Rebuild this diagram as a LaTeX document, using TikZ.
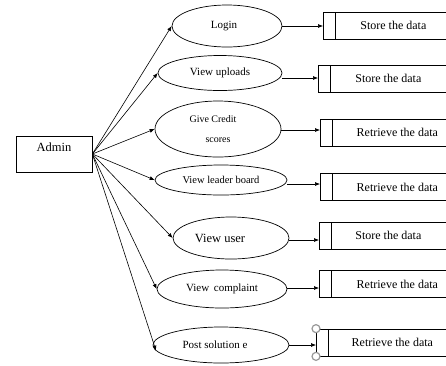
\documentclass[tikz,border=0pt]{standalone}
\usepackage{fontspec}
\setmainfont{Liberation Serif}
\usetikzlibrary{arrows.meta,shapes.geometric}
\begin{document}
\begin{tikzpicture}[x=1pt,y=-1pt,
  uc/.style={draw, ellipse, line width=0.7pt, inner sep=0pt, align=center, font=\fontsize{11}{13}\selectfont},
  store/.style={draw, rectangle, line width=0.7pt, minimum height=27pt, inner sep=0pt, anchor=west,
    font=\fontsize{12}{14}\selectfont,
    path picture={\draw[line width=0.7pt] ([xshift=12pt]path picture bounding box.north west) -- ([xshift=12pt]path picture bounding box.south west);}},
  arr/.style={-{Latex[length=5pt,width=4pt]}, line width=0.6pt},
  handle/.style={circle, draw=black!40, fill=white, line width=1.2pt, minimum size=8pt, inner sep=0pt}]
\useasboundingbox (0,0) rectangle (446,365);
\clip (0,0) rectangle (446,365);
\fill[white] (0,0) rectangle (446,365);

% actor
\node[draw, rectangle, line width=0.7pt, minimum width=76pt, inner sep=3pt, text height=12pt, text depth=18pt,
  font=\fontsize{12.5}{14}\selectfont] (admin) at (54,154) {Admin};

% use cases
\node[uc, minimum width=110pt, minimum height=42pt] (e1) at (227,26) {\hspace*{-6pt}Login};
\node[uc, minimum width=124pt, minimum height=35pt] (e2) at (220,73) {View uploads};
\node[uc, minimum width=126pt, minimum height=56pt, font=\fontsize{10}{20}\selectfont] (e3) at (218,129) {\hspace*{-10pt}Give Credit\\scores};
\node[uc, minimum width=132pt, minimum height=30pt, font=\fontsize{10.5}{12}\selectfont] (e4) at (221,180) {View leader board};
\node[uc, minimum width=116pt, minimum height=42pt, font=\fontsize{12.5}{14}\selectfont] (e5) at (231,238) {\hspace*{-22pt}View user};
\node[uc, minimum width=130pt, minimum height=38pt] (e6) at (222,289) {View\,\ complaint};
\node[uc, minimum width=136pt, minimum height=36pt] (e7) at (221,345) {\hspace*{-12pt}Post solution e};

% data stores
\node[store, minimum width=140pt] (b1) at (323,25.5) {Store the data};
\node[store, minimum width=140pt] (b2) at (318,78.5) {Store the data};
\node[store, minimum width=154pt] (b3) at (320,132.5) {Retrieve the data};
\node[store, minimum width=154pt] (b4) at (320,187) {Retrieve the data};
\node[store, minimum width=138pt] (b5) at (319,235.5) {Store the data};
\node[store, minimum width=156pt] (b6) at (319,284) {Retrieve the data};
\node[store, minimum width=152pt] (b7) at (316,342.5) {Retrieve the data};

% actor to use cases
\draw[arr] (admin.east) -- (e1.west);
\draw[arr] (admin.east) -- (e2.west);
\draw[arr] (admin.east) -- (e3.west);
\draw[arr] (admin.east) -- (e4.west);
\draw[arr] (admin.east) -- (e5.west);
\draw[arr] (admin.east) -- (e6.west);
\draw[arr] (admin.east) -- (e7.185);

% use cases to stores
\draw[arr] (e1.east) -- (e1.east -| b1.west);
\draw[arr] ([yshift=-5pt]e2.east) -- ([yshift=-5pt]e2.east -| b2.west);
\draw[arr] ([yshift=-1pt]e3.east) -- ([yshift=-1pt]e3.east -| b3.west);
\draw[arr] ([yshift=-4pt]e4.east) -- ([yshift=-4pt]e4.east -| b4.west);
\draw[arr] ([yshift=-2pt]e5.east) -- ([yshift=-2pt]e5.east -| b5.west);
\draw[arr] ([yshift=1pt]e6.east) -- ([yshift=1pt]e6.east -| b6.west);
\draw[arr] (e7.east) -- (e7.east -| b7.west);

% selection handles
\node[handle] (h1) at (b7.north west) {};
\node[handle] (h2) at (b7.south west) {};
\end{tikzpicture}
\end{document}
